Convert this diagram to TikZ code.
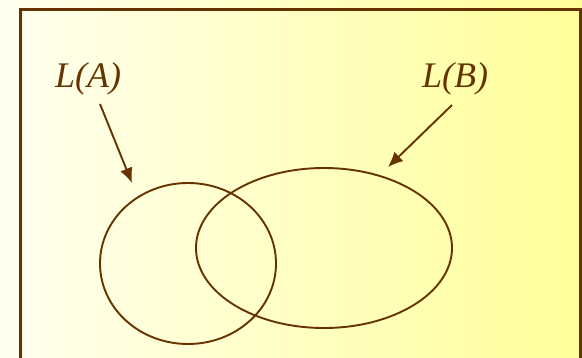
\documentclass[tikz,border=0pt]{standalone}
\usepackage{fontspec}
\setmainfont{Liberation Serif}
\usetikzlibrary{arrows.meta,shapes.geometric}
\definecolor{rim}{HTML}{663300}
\definecolor{paleyellow}{HTML}{FFFFF0}
\definecolor{deepyellow}{HTML}{FFFF99}

\begin{document}
\begin{tikzpicture}[x=1pt,y=-1pt,>={Latex[length=15pt,width=13pt]},
  lang/.style={text=rim,inner sep=0pt,anchor=base west,font=\fontsize{36}{40}\selectfont\itshape},
  set/.style={ellipse,draw=rim,line width=1.9pt,inner sep=0pt}]
  % Bakgrunn og ramme
  \useasboundingbox (0,0) rectangle (582,357);
  \shade[left color=paleyellow,right color=deepyellow] (0,0) rectangle (582,357);
  \draw[rim,line width=3pt] (20,370) -- (20,9) -- (580,9) -- (580,370);
  % Mengdene
  \node[set,minimum width=176pt,minimum height=161pt] (setA) at (188,263.5) {};
  \node[set,minimum width=256pt,minimum height=160pt] (setB) at (324,248) {};
  % Navn
  \node[lang] (nameA) at (55,87) {L(A)};
  \node[lang] (nameB) at (422,87) {L(B)};
  % Piler
  \coordinate (fromA) at (100,104);
  \coordinate (toA) at (132,183);
  \coordinate (fromB) at (452,105);
  \coordinate (toB) at (388,167);
  \draw[->,rim,line width=1.9pt] (fromA) -- (toA);
  \draw[->,rim,line width=1.9pt] (fromB) -- (toB);
\end{tikzpicture}
\end{document}
